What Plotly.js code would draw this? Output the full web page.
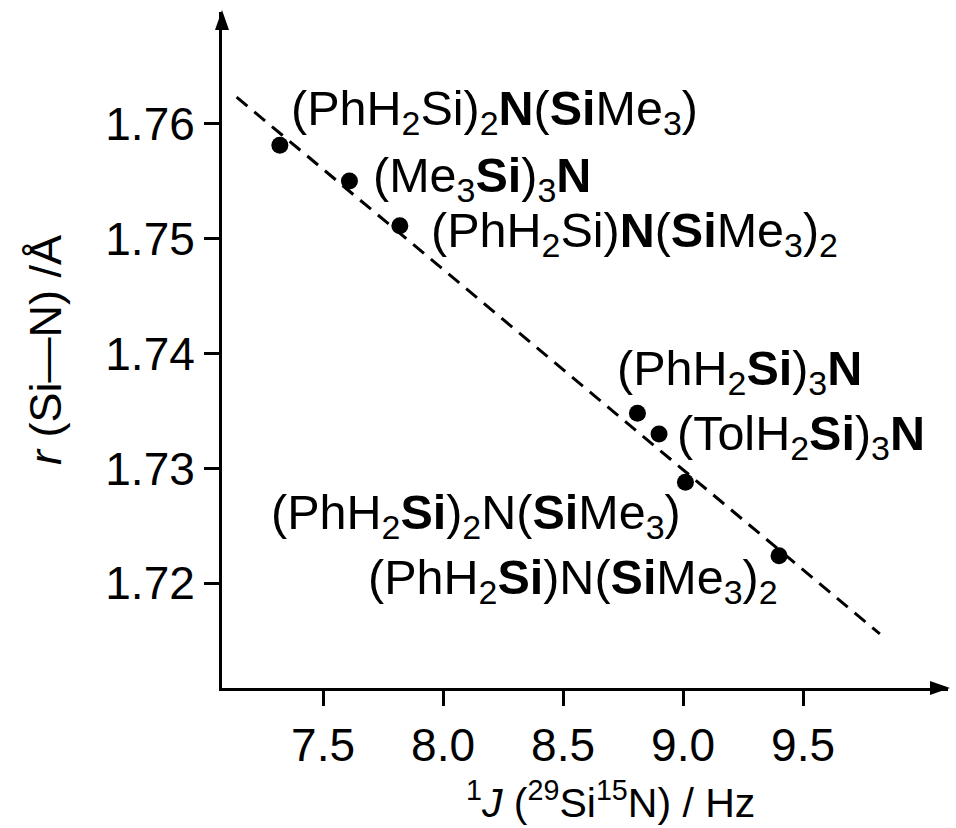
<!DOCTYPE html>
<html>
<head>
<meta charset="utf-8">
<script src="https://cdn.plot.ly/plotly-3.0.1.min.js"></script>
<style>html,body{margin:0;padding:0;background:#fff;overflow:hidden;}#chart{width:956px;height:828px;}</style>
</head>
<body>
<div id="chart"></div>
<script>
// Data
const couplingJ = [7.32, 7.61, 7.82, 8.81, 8.90, 9.01, 9.40];           // 1J(29Si15N) / Hz
const bondLength = [1.7581, 1.7550, 1.7511, 1.7348, 1.7330, 1.7288, 1.7224]; // r(Si-N) / Å
const compoundLabels = [
  "(PhH<sub>2</sub>Si)<sub>2</sub><b>N</b>(<b>Si</b>Me<sub>3</sub>)",
  "(Me<sub>3</sub><b>Si</b>)<sub>3</sub><b>N</b>",
  "(PhH<sub>2</sub>Si)<b>N</b>(<b>Si</b>Me<sub>3</sub>)<sub>2</sub>",
  "(PhH<sub>2</sub><b>Si</b>)<sub>3</sub><b>N</b>",
  "(TolH<sub>2</sub><b>Si</b>)<sub>3</sub><b>N</b>",
  "(PhH<sub>2</sub><b>Si</b>)<sub>2</sub>N(<b>Si</b>Me<sub>3</sub>)",
  "(PhH<sub>2</sub><b>Si</b>)N(<b>Si</b>Me<sub>3</sub>)<sub>2</sub>"
];
const fitJ = [7.14, 9.82];
const fitR = [1.7623, 1.7156];
const xTicks = [7.5, 8.0, 8.5, 9.0, 9.5];
const yTicks = [1.72, 1.73, 1.74, 1.75, 1.76];

// Label placement (pixel offsets from each point), styling only
const labelStyle = [
  {xanchor: 'left',  dx: 9,   dy: 34},
  {xanchor: 'left',  dx: 22,  dy: 3},
  {xanchor: 'left',  dx: 29,  dy: -8},
  {xanchor: 'left',  dx: -22, dy: 42},
  {xanchor: 'left',  dx: 16,  dy: -3},
  {xanchor: 'right', dx: -2,  dy: -33},
  {xanchor: 'right', dx: 1,   dy: -25}
];

const FONT = "Liberation Sans, Arial, Helvetica, sans-serif";

const traces = [
  {x: fitJ, y: fitR, type: 'scatter', mode: 'lines',
   line: {color: '#000', width: 3, dash: '14px,9px'}, hoverinfo: 'skip'},
  {x: couplingJ, y: bondLength, type: 'scatter', mode: 'markers',
   marker: {color: '#000', size: 17}, hoverinfo: 'skip'}
];

const annotations = compoundLabels.map((t, i) => ({
  x: couplingJ[i], y: bondLength[i], xref: 'x', yref: 'y',
  text: t, showarrow: false,
  xanchor: labelStyle[i].xanchor, yanchor: 'middle',
  xshift: labelStyle[i].dx, yshift: labelStyle[i].dy,
  font: {family: FONT, size: 48.5, color: '#000'}
}));

annotations.push({
  x: 8.696, xref: 'x', y: -0.165, yref: 'paper', yanchor: 'middle',
  text: "<sup>1</sup><i>J</i> (<sup>29</sup>Si<sup>15</sup>N) / Hz",
  showarrow: false, font: {family: FONT, size: 41, color: '#000'}
});

const shapes = [
  {type: 'path', xref: 'paper', yref: 'paper', xsizemode: 'pixel', ysizemode: 'pixel',
   xanchor: 1, yanchor: 0, path: 'M 2 0 L -18 7 L -18 -7 Z',
   fillcolor: '#000', line: {width: 0}},
  {type: 'path', xref: 'paper', yref: 'paper', xsizemode: 'pixel', ysizemode: 'pixel',
   xanchor: 0, yanchor: 1, path: 'M 0 2 L -7 -18 L 7 -18 Z',
   fillcolor: '#000', line: {width: 0}}
];

const layout = {
  width: 956, height: 828,
  margin: {l: 222, r: 8, t: 12, b: 140},
  paper_bgcolor: '#fff', plot_bgcolor: '#fff',
  showlegend: false,
  font: {family: FONT, color: '#000'},
  xaxis: {
    range: [7.079, 10.104], showgrid: false, zeroline: false,
    showline: true, linecolor: '#000', linewidth: 3,
    ticks: 'outside', ticklen: 15, tickwidth: 3, tickcolor: '#000',
    tickvals: xTicks, tickformat: '.1f',
    tickfont: {family: FONT, size: 46, color: '#000'}
  },
  yaxis: {
    range: [1.7109, 1.7697], showgrid: false, zeroline: false,
    showline: true, linecolor: '#000', linewidth: 3,
    ticks: 'outside', ticklen: 15, tickwidth: 3, tickcolor: '#000',
    tickvals: yTicks, tickformat: '.2f',
    tickfont: {family: FONT, size: 46, color: '#000'},
    title: {text: "<i>r</i> (Si—N) /Å", font: {family: FONT, size: 45, color: '#000'}, standoff: 30}
  },
  annotations: annotations,
  shapes: shapes
};

Plotly.newPlot('chart', traces, layout, {staticPlot: true, displayModeBar: false});
</script>
</body>
</html>
